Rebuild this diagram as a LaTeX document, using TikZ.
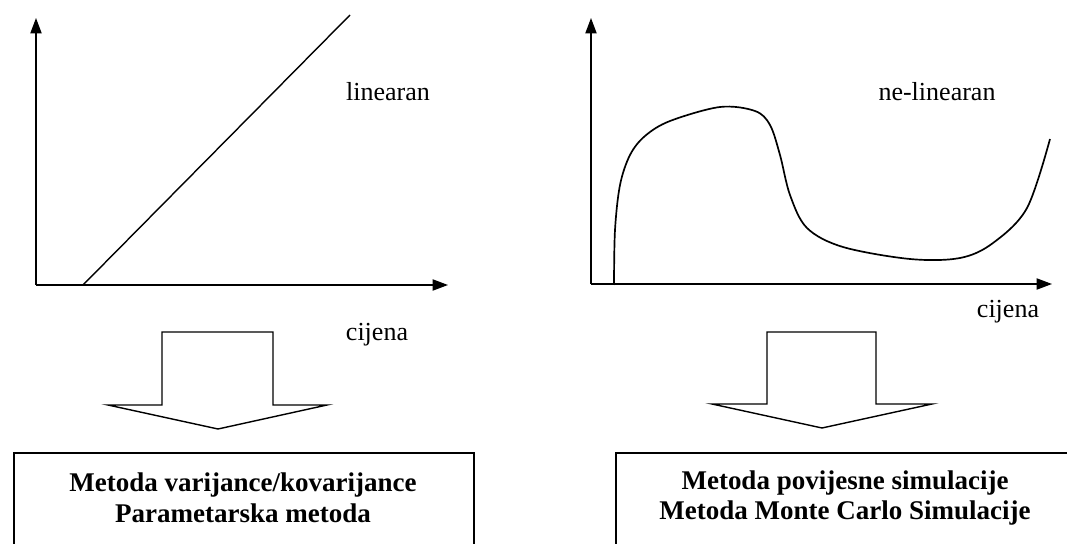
\documentclass[tikz,border=0pt]{standalone}
\usepackage{fontspec}
\setmainfont{Liberation Serif}
\usetikzlibrary{arrows.meta}

\tikzset{
	axis/.style={line width=1pt, -{Stealth[length=11pt, width=8pt, inset=0pt]}},
	curve/.style={line width=1.2pt},
	blockarrow/.style={line width=1pt, line join=miter},
	methodbox/.style={draw, line width=1.1pt, minimum width=11.5cm, minimum height=3cm, anchor=north west},
	lbl/.style={font=\fontsize{18.5}{21.5}\selectfont},
	methodtext/.style={font=\fontsize{19.2}{22}\selectfont\bfseries, align=center}
}

\begin{document}
\begin{tikzpicture}[x=0.025cm, y=-0.025cm]
	\useasboundingbox (0, 0) rectangle (1067, 544);
	\clip (0, 0) rectangle (1067, 544);
	% Left chart:
	\coordinate (lorig) at (36, 285);
	\coordinate (ltop) at (36, 18);
	\coordinate (lend) at (448, 285);
	\coordinate (lstart) at (83, 285);
	\coordinate (lfin) at (350, 15);
	\draw[axis] (lorig) -- (ltop);
	\draw[axis] (lorig) -- (lend);
	\draw[line width=1pt] (lstart) -- (lfin);
	\node[lbl] (llin) at (388, 92){linearan};
	\node[lbl] (lprice) at (377, 335){cijena};
	% Right chart:
	\coordinate (rorig) at (591, 284);
	\coordinate (rtop) at (591, 18);
	\coordinate (rend) at (1052, 284);
	\draw[axis] (rorig) -- (rtop);
	\draw[axis] (rorig) -- (rend);
	\draw[curve] plot[smooth, tension=0.55] coordinates {(614, 285) (615, 230) (620, 185) (630, 155) (645, 136) (670, 121) (720, 107) (755, 111) (770, 125) (780, 155) (790, 195) (807, 228) (843, 247) (910, 259) (960, 258) (993, 243) (1027, 208) (1050, 139)};
	\node[lbl] (rlin) at (937, 92){ne-linearan};
	\node[lbl] (rprice) at (1008, 312){cijena};
	% Block arrows:
	\draw[blockarrow] (162, 332) -- (273, 332) -- (273, 405) -- (327, 405) -- (218, 429) -- (108, 405) -- (162, 405) -- cycle;
	\draw[blockarrow] (767, 332) -- (876, 332) -- (876, 404) -- (932, 404) -- (822, 428) -- (712, 404) -- (767, 404) -- cycle;
	% Method boxes:
	\node[methodbox] (lbox) at (13, 452){};
	\node[methodtext] (ltext) at (243, 498){Metoda varijance/kovarijance\\Parametarska metoda};
	\node[methodbox] (rbox) at (615, 452){};
	\node[methodtext] (rtext) at (845, 498){Metoda povijesne simulacije\\Metoda Monte Carlo Simulacije};
\end{tikzpicture}
\end{document}
